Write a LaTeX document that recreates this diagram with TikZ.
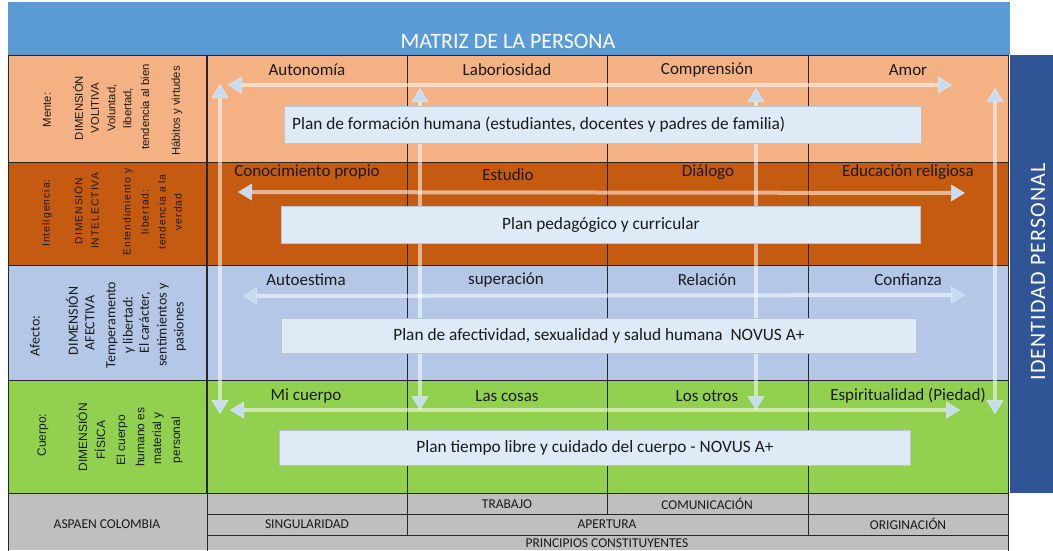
\documentclass[tikz,border=0pt]{standalone}
\usepackage{fontspec}
\setmainfont{Carlito}
\newfontfamily\arialf{Liberation Sans}
\newfontfamily\arialsp[LetterSpace=10]{Liberation Sans}
\newfontfamily\idfont[LetterSpace=5]{Carlito}
\usetikzlibrary{arrows.meta}
\definecolor{titleblue}{HTML}{5B9BD5}
\definecolor{idblue}{HTML}{2F5597}
\definecolor{rowA}{HTML}{F4B183}
\definecolor{rowB}{HTML}{C55A11}
\definecolor{rowC}{HTML}{B4C7E7}
\definecolor{rowD}{HTML}{92D050}
\definecolor{greyrow}{HTML}{BFBFBF}
\definecolor{planfill}{HTML}{DEEBF7}
\definecolor{planedge}{HTML}{B8C4D0}
\definecolor{arrowblue}{HTML}{C6DCF0}
\definecolor{gridline}{HTML}{262626}
\definecolor{txt}{HTML}{1A1A1A}
\begin{document}
\begin{tikzpicture}[x=1pt,y=-1pt,
  hdr/.style={text=txt,font=\fontsize{17}{20}\selectfont,inner sep=0pt},
  plan/.style={draw=planedge,fill=planfill,line width=0.8pt,text=txt,
     font=\fontsize{17.3}{20}\selectfont,inner sep=0pt},
  plantext/.style={text=txt,font=\fontsize{17.3}{20}\selectfont,inner sep=0pt},
  botlbl/.style={text=txt,font=\fontsize{13.5}{15}\selectfont,inner sep=0pt},
  lblA/.style={rotate=90,text=txt,font=\arialf\fontsize{11.3}{13}\selectfont,inner sep=0pt},
  lblB/.style={rotate=90,text=txt,font=\arialsp\fontsize{10.3}{12}\selectfont,inner sep=0pt},
  lblC/.style={rotate=90,text=txt,font=\fontsize{14}{16}\selectfont,inner sep=0pt},
  lblD/.style={rotate=90,text=txt,font=\arialf\fontsize{12}{14}\selectfont,inner sep=0pt},
  grid/.style={draw=gridline,line width=1pt},
  arr/.style={line width=4pt,draw=white,draw opacity=0.55,
    {Triangle[width=17pt,length=14pt,fill=arrowblue,color=white,line width=0.5pt]}-{Triangle[width=17pt,length=14pt,fill=arrowblue,color=white,line width=0.5pt]}}
]
\useasboundingbox (0,0) rectangle (1053,550);
\fill[white] (0,0) rectangle (1053,550);
% title bar
\fill[titleblue] (8,2) rectangle (1010,55);
\node[text=white,font=\fontsize{22}{24}\selectfont,inner sep=0pt] (title) at (508,41) {MATRIZ DE LA PERSONA};
% identity bar
\fill[idblue] (1010,55) rectangle (1053,493);
\node[rotate=90,text=white,font=\idfont\fontsize{22}{24}\selectfont,inner sep=0pt] (ident) at (1038,272) {IDENTIDAD PERSONAL};
% rows
\fill[rowA] (8,55) rectangle (1008,162);
\fill[rowB] (8,162) rectangle (1008,265);
\fill[rowC] (8,265) rectangle (1008,380);
\fill[rowD] (8,380) rectangle (1008,493);
\fill[greyrow] (8,493) rectangle (1008,550);
% grid
\draw[grid] (8,55) rectangle (1008,493);
\foreach \yy in {162,265,380} \draw[grid] (8,\yy) -- (1008,\yy);
\draw[grid,line width=1.6pt] (207,55) -- (207,493);
\foreach \xx in {407,607,808} \draw[grid,line width=0.8pt] (\xx,55) -- (\xx,493);
\draw[grid] (8,493) rectangle (1008,552);
\draw[grid] (207,493) -- (207,552);
\draw[grid] (207,514) -- (1008,514);
\draw[grid] (207,535) -- (1008,535);
\foreach \xx in {407,607,808} \draw[grid] (\xx,493) -- (\xx,514);
\foreach \xx in {407,808} \draw[grid] (\xx,514) -- (\xx,535);
% left column labels
\foreach \t/\x/\y [count=\i] in {Mente:/47/110, DIMENSIÓN/78/108, VOLITIVA/95/108, {Voluntad,}/112/108, {libertad,}/128/108, tendencia al bien/145/107, Hábitos y virtudes/177/111}
  \node[lblA] (la\i) at (\x,\y) {\t};
\foreach \t/\x/\y [count=\i] in {Inteligencia:/47/213, DIMENSIÓN/78/211, INTELECTIVA/95/211, Entendimiento y/128/212, libertad:/145/212, tendencia a la/162/212, verdad/178/212}
  \node[lblB] (lb\i) at (\x,\y) {\t};
\foreach \t/\x/\y [count=\i] in {Afecto:/35/336, DIMENSIÓN/72/321, AFECTIVA/90/323, Temperamento/112/325, y libertad:/129/325, {El carácter,}/145/323, sentimientos y/163/325, pasiones/180/327}
  \node[lblC] (lc\i) at (\x,\y) {\t};
\foreach \t/\x/\y [count=\i] in {Cuerpo:/43/435, DIMENSIÓN/82/437, FÍSICA/100/440, El cuerpo/122/440, humano es/140/437, material y/158/438, personal/177/440}
  \node[lblD] (ld\i) at (\x,\y) {\t};
% headers
\node[hdr] (h11) at (307,70) {Autonomía};
\node[hdr] (h12) at (507,70) {Laboriosidad};
\node[hdr] (h13) at (707,70) {Comprensión};
\node[hdr] (h14) at (908,70) {Amor};
\node[hdr] (h21) at (307,172) {Conocimiento propio};
\node[hdr] (h22) at (508,175) {Estudio};
\node[hdr] (h23) at (708,172) {Diálogo};
\node[hdr] (h24) at (908,172) {Educación religiosa};
\node[hdr] (h31) at (306,280) {Autoestima};
\node[hdr] (h32) at (506,280) {superación};
\node[hdr] (h33) at (707,280) {Relación};
\node[hdr] (h34) at (908,280) {Confianza};
\node[hdr] (h41) at (306,396) {Mi cuerpo};
\node[hdr] (h42) at (507,396) {Las cosas};
\node[hdr] (h43) at (707,396) {Los otros};
\node[hdr] (h44) at (908,396) {Espiritualidad (Piedad)};
% bottom labels
\node[botlbl] (aspaen) at (107,524) {ASPAEN COLOMBIA};
\node[botlbl] (trab) at (507,504) {TRABAJO};
\node[botlbl] (comu) at (707,504) {COMUNICACIÓN};
\node[botlbl] (sing) at (307,524) {SINGULARIDAD};
\node[botlbl] (aper) at (607,524) {APERTURA};
\node[botlbl] (orig) at (908,524) {ORIGINACIÓN};
\node[botlbl] (princ) at (607,543.5) {PRINCIPIOS CONSTITUYENTES};
% arrow end points
\coordinate (r1l) at (228,85); \coordinate (r1r) at (952,85);
\coordinate (r2l) at (238,192); \coordinate (r2r) at (965,193);
\coordinate (r3l) at (243,296); \coordinate (r3r) at (965,295);
\coordinate (r4l) at (230,410); \coordinate (r4r) at (960,410);
\coordinate (v1t) at (220,84); \coordinate (v1b) at (220,414);
\coordinate (v2t) at (420,88); \coordinate (v2b) at (420,410);
\coordinate (v3t) at (756,88); \coordinate (v3b) at (756,410);
\coordinate (v4t) at (995,88); \coordinate (v4b) at (995,414);
\draw[arr] (v1t) -- (v1b);
\draw[arr] (v2t) -- (v2b);
\draw[arr] (v3t) -- (v3b);
\draw[arr] (v4t) -- (v4b);
\draw[arr] (r1l) -- (r1r);
\draw[arr] (r2l) -- (r2r);
\draw[arr] (r3l) -- (r3r);
\draw[arr] (r4l) -- (r4r);
% plan boxes
\node[plan,minimum width=637pt,minimum height=37pt,anchor=north west] (p1) at (284,106) {};
\node[plantext,anchor=west] (p1t) at ([xshift=8pt]p1.west) {Plan de formación humana (estudiantes, docentes y padres de familia)};
\node[plan,minimum width=639pt,minimum height=37pt,anchor=north west] (p2) at (281,206) {Plan pedagógico y curricular};
\node[plan,minimum width=635pt,minimum height=35pt,anchor=north west] (p3) at (281,318) {Plan de afectividad, sexualidad y salud humana\ \ NOVUS A+};
\node[plan,minimum width=631pt,minimum height=35pt,anchor=north west] (p4) at (279,430) {Plan tiempo libre y cuidado del cuerpo - NOVUS A+};
\end{tikzpicture}
\end{document}
